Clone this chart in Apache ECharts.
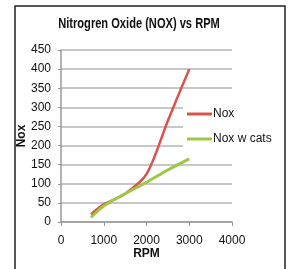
<!DOCTYPE html>
<html lang="en">

<head>
    <meta charset="UTF-8">
    <title>Nitrogren Oxide (NOX) vs RPM</title>
    <script src="https://cdn.jsdelivr.net/npm/echarts@6/dist/echarts.min.js"></script>
    <style>
        html, body { margin: 0; padding: 0; background: #fff; }
        #chart { width: 288px; height: 269px; }
    </style>
</head>

<body>
    <div id="chart"></div>
    <script>
        // values
        var rpm = [700, 1000, 1500, 2000, 2500, 3000];
        var nox = [20, 46, 74, 125, 265, 400];
        var noxCats = [12, 42, 74, 104, 136, 165];
        var seriesNames = ['Nox', 'Nox w cats'];
        var titleText = 'Nitrogren Oxide (NOX) vs RPM';

        function pairs(xs, ys) {
            var out = [];
            for (var i = 0; i < xs.length; i++) {
                out.push([xs[i], ys[i]]);
            }
            return out;
        }

        var font = '"Liberation Sans", Arial, sans-serif';
        var chart = echarts.init(document.getElementById('chart'));
        chart.setOption({
            animation: false,
            graphic: [{
                type: 'rect',
                shape: { x: 15, y: 6, width: 270, height: 300 },
                style: { fill: 'none', stroke: '#222', lineWidth: 1.5 },
                silent: true
            }, {
                // narrow bold title, like the original
                type: 'text',
                x: 139,
                y: 24,
                scaleX: 0.74,
                style: {
                    text: titleText,
                    font: 'bold 15px ' + font,
                    fill: '#111',
                    align: 'center',
                    verticalAlign: 'middle'
                },
                silent: true
            }],
            legend: {
                orient: 'vertical',
                left: 183,
                top: 102,
                padding: [6, 4, 6, 4],
                backgroundColor: '#fff',
                itemWidth: 25,
                itemHeight: 3,
                itemGap: 13,
                icon: 'rect',
                textStyle: { fontFamily: font, fontSize: 12, color: '#111', padding: [0, 0, 0, -4] },
                data: seriesNames
            },
            grid: { left: 61, right: 56, top: 50, bottom: 47 },
            xAxis: {
                type: 'value',
                min: 0,
                max: 4000,
                interval: 1000,
                name: 'RPM',
                nameLocation: 'middle',
                nameGap: 26,
                nameMoveOverlap: false,
                nameTextStyle: { fontFamily: font, fontSize: 12, fontWeight: 'bold', color: '#111' },
                axisLine: { lineStyle: { color: '#999', width: 1.5 } },
                axisTick: { show: true, length: 4, lineStyle: { color: '#999' } },
                axisLabel: {
                    fontFamily: font, fontSize: 12, color: '#111', margin: 13,
                    formatter: function (v) { return String(v); }
                },
                splitLine: { show: false }
            },
            yAxis: {
                type: 'value',
                min: 0,
                max: 450,
                interval: 50,
                name: 'Nox',
                nameLocation: 'middle',
                nameGap: 33,
                nameMoveOverlap: false,
                nameTextStyle: { fontFamily: font, fontSize: 12, fontWeight: 'bold', color: '#111' },
                axisLine: { show: true, lineStyle: { color: '#999', width: 1.5 } },
                axisTick: { show: true, length: 3, lineStyle: { color: '#999' } },
                axisLabel: { fontFamily: font, fontSize: 12, color: '#111', margin: 10 },
                splitLine: { lineStyle: { color: '#b5b5b5', width: 1.5 } }
            },
            series: [{
                name: seriesNames[0],
                type: 'line',
                smooth: 0.3,
                showSymbol: false,
                data: pairs(rpm, nox),
                itemStyle: { color: '#d9534c' },
                lineStyle: { color: '#d9534c', width: 2.5 }
            }, {
                name: seriesNames[1],
                type: 'line',
                smooth: 0.3,
                showSymbol: false,
                data: pairs(rpm, noxCats),
                itemStyle: { color: '#9fc744' },
                lineStyle: { color: '#9fc744', width: 3 }
            }]
        });
    </script>
</body>

</html>
